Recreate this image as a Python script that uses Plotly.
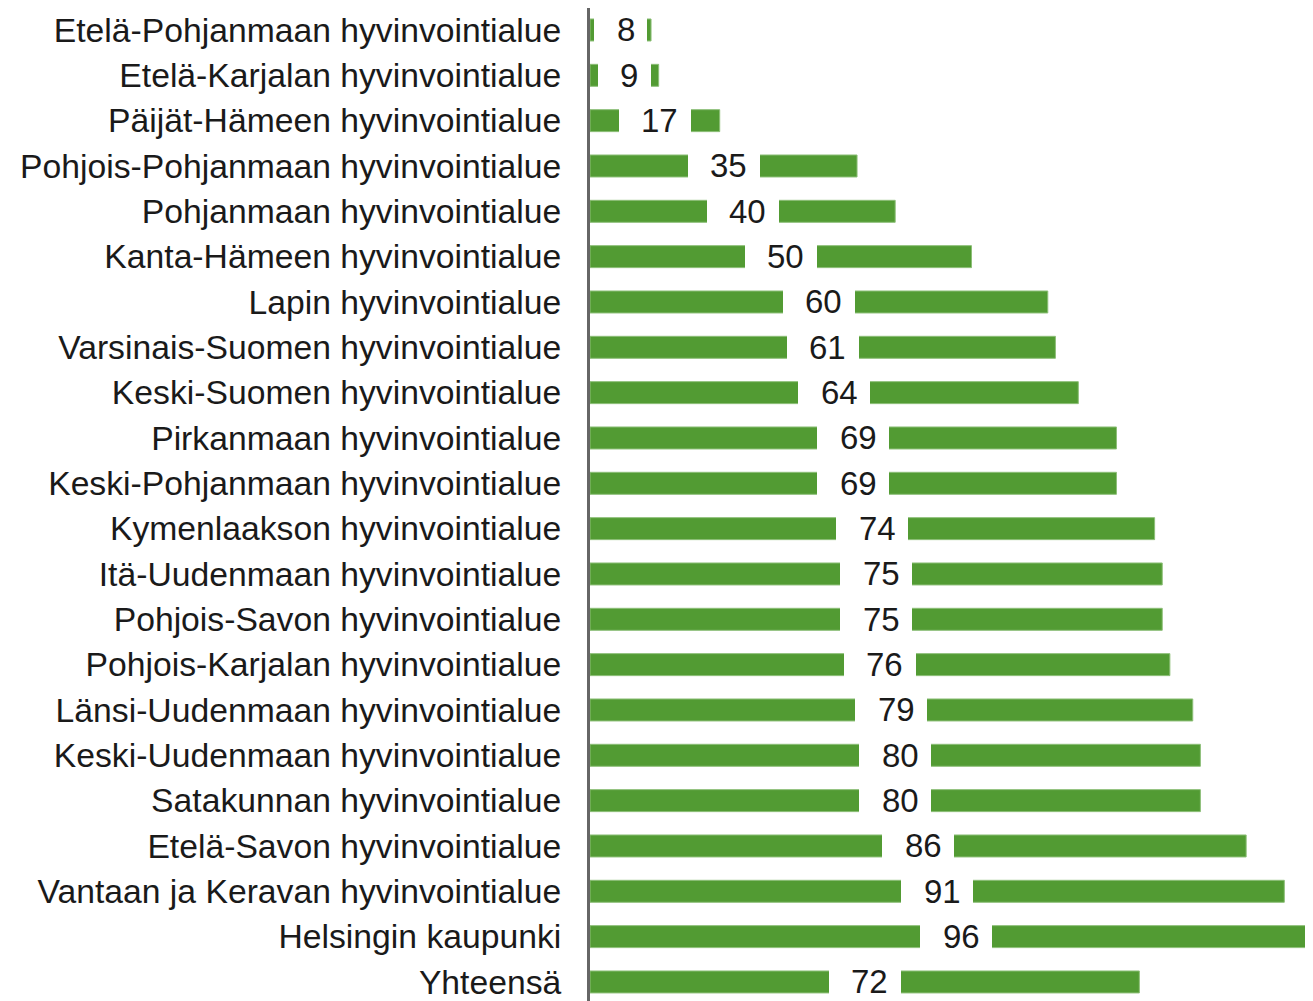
import plotly.graph_objects as go

# regions top to bottom, with the value shown on each bar
regions = [
    "Etelä-Pohjanmaan hyvinvointialue",
    "Etelä-Karjalan hyvinvointialue",
    "Päijät-Hämeen hyvinvointialue",
    "Pohjois-Pohjanmaan hyvinvointialue",
    "Pohjanmaan hyvinvointialue",
    "Kanta-Hämeen hyvinvointialue",
    "Lapin hyvinvointialue",
    "Varsinais-Suomen hyvinvointialue",
    "Keski-Suomen hyvinvointialue",
    "Pirkanmaan hyvinvointialue",
    "Keski-Pohjanmaan hyvinvointialue",
    "Kymenlaakson hyvinvointialue",
    "Itä-Uudenmaan hyvinvointialue",
    "Pohjois-Savon hyvinvointialue",
    "Pohjois-Karjalan hyvinvointialue",
    "Länsi-Uudenmaan hyvinvointialue",
    "Keski-Uudenmaan hyvinvointialue",
    "Satakunnan hyvinvointialue",
    "Etelä-Savon hyvinvointialue",
    "Vantaan ja Keravan hyvinvointialue",
    "Helsingin kaupunki",
    "Yhteensä",
]
values = [8, 9, 17, 35, 40, 50, 60, 61, 64, 69, 69, 74, 75, 75, 76, 79, 80, 80, 86, 91, 96, 72]

GREEN = "#529b33"
TEXT = "#1a1a1a"
FONT = "Liberation Sans, Arial, sans-serif"

# page body adds an 8px margin, so the figure is 8px smaller than the window
W, H = 1305, 993
M_LEFT = 582
X_MAX = 94.76
LABEL_SIZE = 33

fig = go.Figure(
    go.Bar(
        x=values,
        y=regions,
        orientation="h",
        marker=dict(color=GREEN, line=dict(width=1, color="#8dbf78")),
        hoverinfo="x+y",
    )
)

# value labels sit in the middle of each bar on a white patch
# (patch = text width + ~17px either side), text nudged slightly right
for r, v in zip(regions, values):
    txt = str(v)
    patch_w = len(txt) * 0.556 * LABEL_SIZE + 35
    fig.add_annotation(
        x=v / 2, y=r, xref="x", yref="y",
        text=" ", showarrow=False,
        bgcolor="white", width=patch_w, height=30, borderpad=0, borderwidth=0,
    )
    fig.add_annotation(
        x=v / 2, y=r, xref="x", yref="y", xshift=5,
        text=txt, showarrow=False,
        font=dict(size=LABEL_SIZE, color=TEXT, family=FONT),
    )

fig.update_yaxes(
    categoryorder="array",
    categoryarray=regions,
    range=[21.42, -0.485],
    automargin=False,
    showline=True,
    linecolor="#666666",
    linewidth=3,
    ticks="",
    ticklabelstandoff=19,
    tickfont=dict(size=33.7, color=TEXT, family=FONT),
    showgrid=False,
)
fig.update_xaxes(
    range=[0, X_MAX],
    automargin=False,
    visible=False,
    showgrid=False,
    zeroline=False,
)

fig.update_layout(
    width=W,
    height=H,
    margin=dict(l=M_LEFT, r=0, t=0, b=0, autoexpand=False),
    bargap=0.515,
    plot_bgcolor="white",
    paper_bgcolor="white",
    showlegend=False,
    font_family=FONT,
)

fig.write_html("out.html")
